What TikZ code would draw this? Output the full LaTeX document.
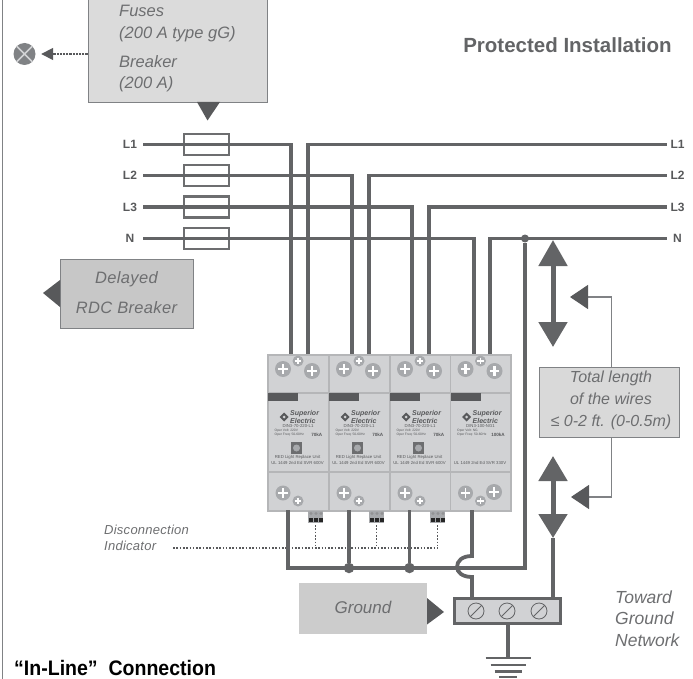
\documentclass[tikz,border=0pt]{standalone}
\usepackage{fontspec}
\setmainfont{Liberation Sans}
\setsansfont{Liberation Sans}
\usetikzlibrary{arrows.meta}
\definecolor{wiregray}{HTML}{636466}
\definecolor{tipgray}{HTML}{58595B}
\definecolor{textgray}{HTML}{6D6E70}
\definecolor{framegray}{HTML}{808285}
\definecolor{modfill}{HTML}{D1D2D4}
\definecolor{modline}{HTML}{B5B6B8}
\definecolor{screwgray}{HTML}{A7A9AC}
\tikzset{
	wire/.style={draw=wiregray, line width=3.2},
	fusebox/.style={draw=textgray, line width=2.3, minimum width=45, minimum height=21, inner sep=0},
	linelabel/.style={text=tipgray, inner sep=0, font=\fontsize{12}{14}\selectfont\bfseries},
	infobox/.style={draw=framegray, line width=.9, inner sep=0},
	infotext/.style={text=textgray, inner sep=0, align=left},
	modbox/.style={draw=modline, fill=modfill, line width=1.5, minimum width=60.5, inner sep=0},
	modtext/.style={text=tipgray, inner sep=0, font=\fontsize{4.3}{5}\selectfont},
	bigarrow/.style={draw=wiregray, line width=5},
	thinarrow/.style={draw=framegray, line width=1.1},
	dots/.style={draw=tipgray, line width=1.4, dash pattern=on 1.6 off 1.7},
	screw/.pic={
		\fill[screwgray] (0,0) circle (#1);
		\draw[white, line width=#1*.26] (-#1*.62,0) -- (#1*.62,0) (0,-#1*.62) -- (0,#1*.62);
	}
}
\begin{document}
\begin{tikzpicture}[x=1pt, y=-1pt, font=\sffamily]
	\useasboundingbox (0,0) rectangle (693,679);
	%frame and title
	\draw[framegray, line width=1.4] (2.5,0) -- (2.5,679);
	\node[text=wiregray, inner sep=0, font=\fontsize{20.5}{24}\selectfont\bfseries] (title) at (567.5,45) {Protected Installation};
	\node[text=black, inner sep=0, anchor=west, font=\fontsize{21}{23}\selectfont\bfseries] (connection) at (14,667.5) {\scalebox{.93}[1]{“In-Line”\ \ Connection}};
	%boxes
	\node[infobox, fill=black!14!white, minimum width=179, minimum height=104] (fuses) at (177.5,50.5) {};
	\node[infotext, anchor=west, font=\fontsize{16.5}{21.5}\selectfont\itshape] (fusestext) at (119,49) {Fuses\\(200 A type gG)\\[7.5pt]Breaker\\(200 A)};
	\fill[tipgray] (197,102) -- (220,102) -- (207.5,120.5) -- cycle;
	\node[circle, fill=framegray, minimum size=22, inner sep=0] (lamp) at (24.5,54) {};
	\draw[modfill, line width=1.5] (lamp.north west) -- (lamp.south east) (lamp.north east) -- (lamp.south west);
	\draw[draw=tipgray, line width=1.6, dash pattern=on 2.2 off 1, shorten >=5.5, -{Triangle[length=12,width=12,color=tipgray]}] (fuses.west |- lamp) -- (lamp.east);
	\node[infobox, fill=black!22!white, minimum width=133, minimum height=69] (delayed) at (126.5,293.5) {};
	\node[infotext, align=center, font=\fontsize{16.5}{30}\selectfont\itshape\addfontfeature{LetterSpace=2}] (delayedtext) at (126.5,293) {Delayed\\RDC Breaker};
	\fill[tipgray] (60,280) -- (60,307) -- (43,293) -- cycle;
	%lines
	\foreach \name/\y/\xa/\xb in {L1/144.5/291/308, L2/175.5/352/369, L3/207/412/429, N/238.5/474/490}{
		\node[linelabel, minimum width=26] (in\name) at (130,\y) {\name};
		\node[linelabel, minimum width=21] (out\name) at (677.5,\y) {\name};
		\node[fusebox] (fuse\name) at (206.5,\y) {};
		\coordinate (down\name) at (\xa,354);
		\coordinate (up\name) at (\xb,354);
		\draw[wire] (in\name.east) -| (down\name);
		\draw[wire] (up\name) |- (out\name.west);
	}
	%modules
	\foreach \n/\mx/\mdin/\mvolt/\mka/\mul in {
		1/267/DIN3-70-220-L1/220V/70kA/600V,
		2/328/DIN3-70-220-L1/220V/70kA/600V,
		3/389/DIN3-70-220-L1/220V/70kA/600V,
		4/449.5/DIN3-100-NG1/NG/100kA/330V
	}{
		\begin{scope}[shift={(\mx,0)}]
			\node[modbox, anchor=north west, minimum height=38] (top\n) at (0,354) {};
			\node[modbox, anchor=north west, minimum height=79] (mid\n) at (0,392) {};
			\node[modbox, anchor=north west, minimum height=39] (bot\n) at (0,471) {};
			\fill[tipgray] (1,393) rectangle (31,401);
			\pic at (16,369) {screw=8};
			\pic at (31,361) {screw=5.5};
			\pic at (45,371) {screw=8};
			\pic at (16,493) {screw=7.5};
			\pic at (31,501) {screw=5.5};
			%logo
			\fill[tipgray] (12.5,417) -- (17,412.5) -- (21.5,417) -- (17,421.5) -- cycle;
			\fill[modfill] (15.5,417) -- (17,415.5) -- (18.5,417) -- (17,418.5) -- cycle;
			\node[modtext, anchor=west, align=left, font=\fontsize{7}{6.5}\selectfont\bfseries\itshape] (logo\n) at (23,417) {Superior\\Electric};
			\node[modtext] (din\n) at (31,426) {\mdin};
			\node[modtext, anchor=west, align=left, font=\fontsize{3.3}{3.6}\selectfont] (oper\n) at (7.5,432.5) {Oper Volt:\ \mvolt\\Oper Freq:\ 50-60Hz};
			\node[modtext, anchor=east, font=\fontsize{4.6}{6}\selectfont\bfseries] (ka\n) at (55.5,434.5) {\mka};
			\node[modtext] (ul\n) at (30.5,463) {UL 1449 2nd Ed SVR \mul};
		\end{scope}
	}
	\pic at (494,492) {screw=8};
	%replace units and indicators
	\foreach \n/\mx in {1/267, 2/328, 3/389}{
		\begin{scope}[shift={(\mx,0)}]
			\fill[textgray] (24,442) rectangle (35,454);
			\fill[screwgray] (29.5,448) circle (3.5);
			\node[modtext] (red\n) at (30.5,457) {RED Light Replace Unit};
			\fill[screwgray] (41,511) rectangle (56,523);
			\foreach \k in {0,1,2}{
				\fill[textgray!75!white] (44+\k*5,513.5) circle (1.6);
				\fill[black!85!white] (42.3+\k*5,518) rectangle (45.7+\k*5,521.5);
			}
			\coordinate (ind\n) at (48.5,525);
			\coordinate (inddown\n) at (48.5,548);
		\end{scope}
		\draw[dots] (ind\n) -- (inddown\n);
	}
	\coordinate (indstart) at (173,548);
	\draw[dots] (indstart) -- (inddown3);
	\node[infotext, anchor=west, font=\fontsize{13}{16}\selectfont\itshape\addfontfeature{LetterSpace=2}] (indicator) at (104,538) {Disconnection\\Indicator};
	%ground
	\node[fill=black!20!white, minimum width=128, minimum height=51, inner sep=0, text=textgray, font=\fontsize{17}{20}\selectfont\itshape] (ground) at (363,608.5) {\raisebox{3pt}{Ground}};
	\fill[tipgray] (427,598) -- (427,624.5) -- (444,612) -- cycle;
	\node[draw=wiregray, line width=3, fill=modfill, minimum width=106, minimum height=25, inner sep=0] (terminal) at (507.5,611) {};
	\foreach \n/\sx in {1/476, 2/507, 3/539}{
		\node[circle, draw=wiregray, line width=.8, minimum size=16, inner sep=0] (clamp\n) at (\sx,611) {};
		\draw[wiregray, line width=.8] (clamp\n.south west) -- (clamp\n.north east);
	}
	\coordinate (gndtop) at (508,658);
	\draw[draw=wiregray, line width=4] (terminal.south -| gndtop) -- (gndtop);
	\foreach \gy/\gw in {658/22.5, 665/17.5, 671.5/13.5, 677/9}
		\draw[wiregray, line width=2.6] (508-\gw,\gy) -- (508+\gw,\gy);
	\node[infotext, anchor=west, font=\fontsize{17.5}{21.5}\selectfont\itshape] (toward) at (615,618.5) {Toward\\Ground\\Network};
	%bottom wires
	\coordinate (busleft) at (288,510);
	\coordinate (busright) at (525,568);
	\node[circle, fill=wiregray, minimum size=8, inner sep=0] (nnode) at (525,238.5) {};
	\draw[wire] (busleft) |- (busright) -- (nnode);
	\foreach \n/\bx in {2/349, 3/409.5}{
		\coordinate (drop\n) at (\bx,510);
		\node[circle, fill=wiregray, minimum size=10.5, inner sep=0] (join\n) at (\bx,568) {};
		\draw[wire] (drop\n) -- (join\n);
	}
	\coordinate (drop4) at (472,510);
	\coordinate (droplow) at (472,597);
	\draw[wire, line width=3.8] (drop4) -- (472,556) .. controls (462,556) and (457,561) .. (457,567) .. controls (457,572) and (462,577) .. (472,577) -- (droplow);
	%wire length
	\coordinate (lenA) at (553,240);
	\coordinate (lenB) at (553,347);
	\coordinate (lenC) at (553,456);
	\coordinate (lenD) at (553,538);
	\coordinate (lenE) at (553,597);
	\draw[bigarrow, {Triangle[length=26,width=28,color=wiregray]}-{Triangle[length=25,width=28,color=wiregray]}] (lenA) -- (lenB);
	\draw[bigarrow, {Triangle[length=25,width=28,color=wiregray]}-{Triangle[length=24,width=28,color=wiregray]}] (lenC) -- (lenD);
	\draw[draw=wiregray, line width=4] (lenD) -- (lenE);
	\node[infobox, fill=black!15!white, minimum width=140, minimum height=70] (total) at (609,402) {};
	\node[infotext, align=center, font=\fontsize{16}{22}\selectfont\itshape] (totaltext) at (611,400) {Total length\\of the wires\\≤ 0-2 ft. (0-0.5m)};
	\coordinate (totaltop) at (611.5,367);
	\coordinate (totalbot) at (611.5,437);
	\coordinate (tipup) at (570,297);
	\coordinate (tipdown) at (571,497);
	\draw[thinarrow, -{Triangle[length=18,width=24,color=tipgray]}] (totaltop) |- (tipup);
	\draw[thinarrow, -{Triangle[length=18,width=24,color=tipgray]}] (totalbot) |- (tipdown);
\end{tikzpicture}
\end{document}
